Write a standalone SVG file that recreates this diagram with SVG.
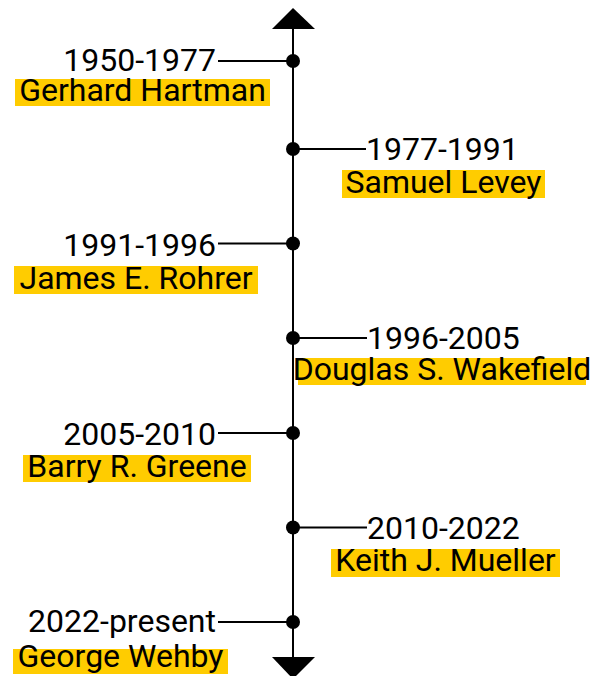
<svg xmlns="http://www.w3.org/2000/svg" width="607" height="676" viewBox="0 0 607 676">
<style>
.yr{font-family:Roboto,"Liberation Sans",sans-serif;font-size:32px;fill:#000}
.nm{font-family:Roboto,"Liberation Sans",sans-serif;font-size:32px;fill:#000;text-anchor:middle}
.hl{fill:#ffcc00}
.ln{stroke:#000;stroke-width:2;fill:none}
.dot{fill:#000}
</style>
<rect width="607" height="676" fill="#fff"/>
<g id="connectors">
<line class="ln" x1="293" y1="25" x2="293" y2="660"/>
<polygon points="293,8 315,29 272,29" fill="#000"/>
<polygon points="272,657 315,657 293,679" fill="#000"/>
<line class="ln" x1="218" y1="61" x2="293" y2="61"/>
<line class="ln" x1="293" y1="149" x2="366" y2="149"/>
<line class="ln" x1="218" y1="243.5" x2="293" y2="243.5"/>
<line class="ln" x1="293" y1="338" x2="367" y2="338"/>
<line class="ln" x1="218" y1="433" x2="293" y2="433"/>
<line class="ln" x1="293" y1="527.5" x2="367" y2="527.5"/>
<line class="ln" x1="218" y1="622" x2="293" y2="622"/>
</g>
<g id="n1">
<circle class="dot" cx="293" cy="61" r="7"/>
<text class="yr" x="216" y="71" text-anchor="end">1950-1977</text>
<rect class="hl" x="15" y="79" width="255" height="27"/>
<text class="nm" x="142.5" y="101">Gerhard Hartman</text>
</g>
<g id="n2">
<circle class="dot" cx="293" cy="149" r="7"/>
<text class="yr" x="366" y="160">1977-1991</text>
<rect class="hl" x="342" y="170" width="203" height="28"/>
<text class="nm" x="443.5" y="193">Samuel Levey</text>
</g>
<g id="n3">
<circle class="dot" cx="293" cy="243.5" r="7"/>
<text class="yr" x="216" y="256" text-anchor="end">1991-1996</text>
<rect class="hl" x="14" y="266" width="244" height="28"/>
<text class="nm" x="136" y="289">James E. Rohrer</text>
</g>
<g id="n4">
<circle class="dot" cx="293" cy="338" r="7"/>
<text class="yr" x="367" y="349">1996-2005</text>
<rect class="hl" x="298" y="358" width="288" height="27"/>
<text class="nm" x="442" y="380">Douglas S. Wakefield</text>
</g>
<g id="n5">
<circle class="dot" cx="293" cy="433" r="7"/>
<text class="yr" x="216" y="445" text-anchor="end">2005-2010</text>
<rect class="hl" x="23" y="455" width="228" height="27"/>
<text class="nm" x="137" y="477">Barry R. Greene</text>
</g>
<g id="n6">
<circle class="dot" cx="293" cy="527.5" r="7"/>
<text class="yr" x="367" y="539">2010-2022</text>
<rect class="hl" x="331" y="549" width="229" height="28"/>
<text class="nm" x="445.5" y="571">Keith J. Mueller</text>
</g>
<g id="n7">
<circle class="dot" cx="293" cy="622" r="7"/>
<text class="yr" x="216" y="632" text-anchor="end">2022-present</text>
<rect class="hl" x="13" y="649" width="215" height="25"/>
<text class="nm" x="120.5" y="667">George Wehby</text>
</g>
</svg>
